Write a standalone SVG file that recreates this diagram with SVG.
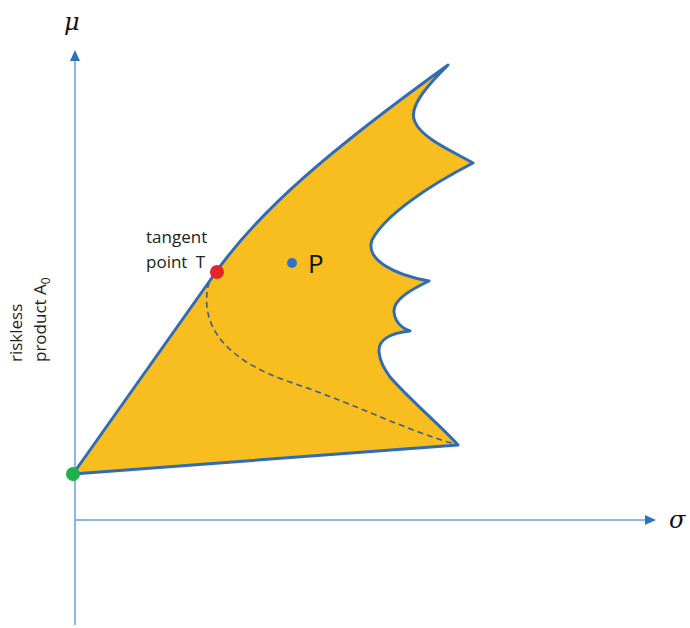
<svg xmlns="http://www.w3.org/2000/svg" width="690" height="628" viewBox="0 0 690 628">
<defs>
<style>
.axis{stroke:#6a9fdc;stroke-width:1.5;fill:none}
.head{fill:#2f72c4}
.lbl{font-family:"Open Sans","Liberation Sans",sans-serif;font-size:17px;fill:#222}
.big{font-family:"Open Sans","Liberation Sans",sans-serif;font-size:26px;fill:#111}
.greek{font-family:"DejaVu Serif","Liberation Serif",serif;font-style:italic;font-size:24px;fill:#111}
.region{fill:#f8bd1e;stroke:#2f6cb5;stroke-width:3;stroke-linejoin:round}
.dash{fill:none;stroke:#3b5f8a;stroke-width:1.6;stroke-dasharray:6 4}
</style>
</defs>
<rect width="690" height="628" fill="#fff"/>
<g id="axes">
<line class="axis" x1="75" y1="625" x2="75" y2="60"/>
<polygon class="head" points="75,50 70,61 80,61"/>
<line class="axis" x1="75" y1="520" x2="646" y2="520"/>
<polygon class="head" points="656,520 645,515 645,525"/>
<text class="greek" x="64" y="30">μ</text>
<text class="greek" x="669" y="528">σ</text>
</g>
<g id="region">
<path class="region" d="M 73 474 L 216 272 C 260 210, 330 150, 448 65 C 425 88, 408 108, 415 122 C 422 138, 450 150, 473 163 C 430 185, 385 215, 372 240 C 365 260, 395 275, 429 281 C 410 290, 393 300, 394 312 C 395 322, 402 328, 410 331 C 390 333, 378 340, 379 352 C 380 362, 384 368, 390 377 C 410 400, 440 425, 458 445 Z"/>
</g>
<g id="connectors">
<path class="dash" d="M 209 282 C 198 325, 225 360, 290 382 S 410 432, 455 444"/>
</g>
<g id="tangent-point">
<text class="lbl" x="146" y="243">tangent</text>
<text class="lbl" x="146" y="268">point <tspan dx="4">T</tspan></text>
<circle cx="217" cy="272" r="7" fill="#e0262a"/>
</g>
<g id="riskless">
<text class="lbl" transform="translate(22,362) rotate(-90)">riskless</text>
<text class="lbl" transform="translate(46,362) rotate(-90)">product A<tspan style="font-size:12px" dy="4">0</tspan></text>
<circle cx="73" cy="474" r="7" fill="#1db24a"/>
</g>
<g id="point-P">
<circle cx="292" cy="263" r="5" fill="#2f72c4"/>
<text class="big" x="308" y="273">P</text>
</g>
</svg>
